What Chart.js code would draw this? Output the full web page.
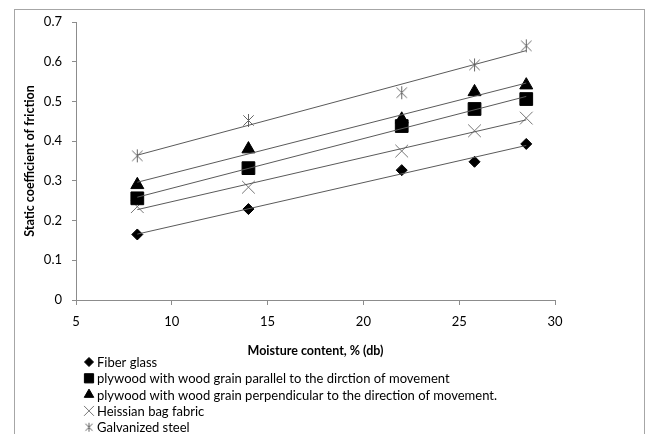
<!DOCTYPE html>
<html>
<head>
<meta charset="utf-8">
<script src="https://cdn.jsdelivr.net/npm/chart.js@4/dist/chart.umd.min.js"></script>
<style>
  html, body { margin: 0; padding: 0; background: #fff; }
  #wrap { position: relative; width: 647px; height: 434px; }
</style>
</head>
<body>
<div id="wrap"><canvas id="chart" width="647" height="434"></canvas></div>
<script>
// datos
const moisture = [8.2, 14, 22, 25.8, 28.5];
const fiberGlass = [0.165, 0.229, 0.327, 0.348, 0.393];
const plywoodParallel = [0.256, 0.332, 0.438, 0.481, 0.506];
const plywoodPerp = [0.290, 0.380, 0.455, 0.524, 0.541];
const hessian = [0.235, 0.284, 0.375, 0.426, 0.458];
const galvanized = [0.363, 0.452, 0.522, 0.592, 0.640];

const seriesNames = [
  'Fiber glass',
  'plywood with wood grain parallel to the dirction of movement',
  'plywood with wood grain perpendicular to the direction of movement.',
  'Heissian bag fabric',
  'Galvanized steel'
];
const xTicks = [5, 10, 15, 20, 25, 30];

const FONT = 'Lato, "Open Sans", sans-serif';

// asterisco tipo Excel: X con una linea vertical
function asterisk(size, color) {
  const cv = document.createElement('canvas');
  cv.width = size; cv.height = size;
  const c = cv.getContext('2d');
  const h = size / 2, r = h - 1, d = r * 0.8;
  c.strokeStyle = color;
  c.lineWidth = 1;
  c.beginPath();
  c.moveTo(h - d, h - d); c.lineTo(h + d, h + d);
  c.moveTo(h + d, h - d); c.lineTo(h - d, h + d);
  c.moveTo(h, h - r); c.lineTo(h, h + r);
  c.stroke();
  return cv;
}

// estilo de cada marcador
const markers = [
  { style: 'rectRot', radius: 5.5, color: '#000', legendRadius: 4.5 },
  { style: 'rect', radius: 9, color: '#000', legendRadius: 6.5 },
  { style: 'triangle', radius: 7.5, color: '#000', legendRadius: 5.5 },
  { style: 'crossRot', radius: 9, color: '#777', legendRadius: 7 },
  { style: asterisk(15, '#666'), radius: 7, color: '#666', legend: asterisk(11, '#666') }
];
const allSeries = [fiberGlass, plywoodParallel, plywoodPerp, hessian, galvanized];

// recta de tendencia (minimos cuadrados)
function trend(xs, ys) {
  const n = xs.length;
  const mx = xs.reduce((a, b) => a + b, 0) / n;
  const my = ys.reduce((a, b) => a + b, 0) / n;
  let sxy = 0, sxx = 0;
  for (let i = 0; i < n; i++) {
    sxy += (xs[i] - mx) * (ys[i] - my);
    sxx += (xs[i] - mx) * (xs[i] - mx);
  }
  const b = sxy / sxx;
  const a = my - b * mx;
  const x0 = Math.min(...xs), x1 = Math.max(...xs);
  return [{ x: x0, y: a + b * x0 }, { x: x1, y: a + b * x1 }];
}

const datasets = [];
allSeries.forEach((ys, i) => {
  datasets.push({
    type: 'line',
    label: seriesNames[i] + ' trend',
    data: trend(moisture, ys),
    borderColor: '#5a5a5a',
    borderWidth: 1,
    pointRadius: 0,
    fill: false
  });
});
allSeries.forEach((ys, i) => {
  const m = markers[i];
  datasets.push({
    type: 'scatter',
    label: seriesNames[i],
    data: moisture.map((x, j) => ({ x: x, y: ys[j] })),
    pointStyle: m.style,
    pointRadius: m.radius,
    pointHoverRadius: m.radius,
    backgroundColor: m.color,
    borderColor: m.color,
    pointBorderWidth: 1
  });
});

// marco y leyenda dibujados a mano
const framePlugin = {
  id: 'frame',
  beforeDraw(chart) {
    const c = chart.ctx;
    c.save();
    c.fillStyle = '#fff';
    c.fillRect(0, 0, chart.width, chart.height);
    c.strokeStyle = '#a6a6a6';
    c.lineWidth = 1;
    c.strokeRect(14.5, 9.5, 630, 440);
    c.restore();
  },
  afterDraw(chart) {
    const c = chart.ctx;
    c.save();
    c.font = '13px ' + FONT;
    c.textBaseline = 'middle';
    seriesNames.forEach((name, i) => {
      const y = 362 + i * 16.3;
      const m = markers[i];
      c.fillStyle = m.color;
      c.strokeStyle = m.color;
      c.lineWidth = 1;
      if (m.legend) {
        c.drawImage(m.legend, 89 - m.legend.width / 2, y - m.legend.height / 2);
      } else {
        Chart.helpers.drawPoint(c, { pointStyle: m.style, radius: m.legendRadius, borderWidth: 1 }, 89, y);
      }
      c.fillStyle = '#000';
      c.fillText(name, 97, y + 1);
    });
    c.restore();
  }
};

new Chart(document.getElementById('chart'), {
  type: 'scatter',
  data: { datasets: datasets },
  options: {
    responsive: false,
    animation: false,
    layout: { padding: { left: 14, top: 22, right: 92, bottom: 72 } },
    plugins: { legend: { display: false }, tooltip: { enabled: false } },
    scales: {
      x: {
        type: 'linear',
        min: 5,
        max: 30,
        afterBuildTicks: (s) => { s.ticks = xTicks.map(v => ({ value: v })); },
        afterFit: (s) => { s.height = 62; },
        grid: { drawOnChartArea: false, tickLength: 5, color: '#8c8c8c' },
        border: { color: '#8c8c8c' },
        ticks: { padding: 9, color: '#000', font: { family: FONT, size: 13 } },
        title: {
          display: true,
          text: 'Moisture content, % (db)',
          color: '#000',
          font: { family: FONT, size: 12.5, weight: 'bold' },
          padding: { top: 4, bottom: 4 }
        }
      },
      y: {
        min: 0,
        max: 0.7,
        ticks: {
          stepSize: 0.1,
          padding: 10,
          color: '#000',
          font: { family: FONT, size: 13 },
          callback: (v) => Math.round(v * 10) / 10
        },
        afterFit: (s) => { s.width = 62; },
        grid: { drawOnChartArea: false, tickLength: 4, color: '#8c8c8c' },
        border: { color: '#8c8c8c' },
        title: {
          display: true,
          text: 'Static coefficient of friction',
          color: '#000',
          font: { family: FONT, size: 12.5, weight: 'bold' },
          padding: { top: 8, bottom: 4 }
        }
      }
    }
  },
  plugins: [framePlugin]
});
</script>
</body>
</html>
